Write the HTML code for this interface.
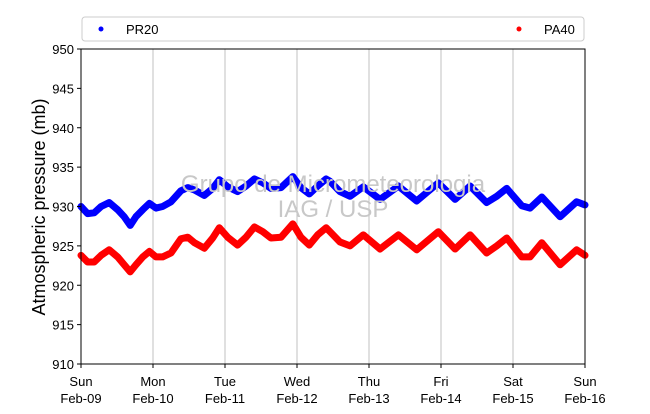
<!DOCTYPE html>
<html><head><meta charset="utf-8"><style>
body{margin:0;background:#fff;}
svg text{font-family:"Liberation Sans","DejaVu Sans",sans-serif;}
</style></head><body>
<svg width="650" height="409" xmlns="http://www.w3.org/2000/svg">
<rect width="650" height="409" fill="#fff"/>
<g id="grid"></g>
<g id="series"></g>
<text x="333" y="192" font-size="24" fill="#c8c8c8" text-anchor="middle">Grupo de Micrometeorologia</text>
<text x="333" y="217" font-size="24" fill="#c8c8c8" text-anchor="middle">IAG / USP</text>
<rect x="81" y="49" width="504" height="315" fill="none" stroke="#000" stroke-width="1"/>
<g id="axes"></g>
<text transform="translate(45,207) rotate(-90)" font-size="18" text-anchor="middle">Atmospheric pressure (mb)</text>
<g>
<rect x="82" y="17" width="502" height="24" rx="3" fill="#fff" stroke="#ccc"/>
<circle cx="101" cy="29" r="2.5" fill="#0000ff"/>
<text x="126" y="34" font-size="13">PR20</text>
<circle cx="519" cy="29" r="2.5" fill="#ff0000"/>
<text x="544" y="34" font-size="13">PA40</text>
</g>
</svg>
<script>
const hours=[0,2.2,4.4,6.7,9.4,12.2,14.4,16.4,18.3,20.6,22.8,25,27.2,30,33.3,35.6,37.8,41.1,43.9,46.1,48.9,52.2,55,57.8,60.6,63.3,66.7,70.6,73.3,76.1,78.9,81.7,83,86.3,89.7,94.1,99.7,105.8,111.9,119.1,124.7,129.7,135.2,138.6,141.9,146.9,149.7,153.6,159.7,165.2,168];
const pa40=[923.8,922.95,922.95,923.8,924.5,923.6,922.6,921.7,922.6,923.6,924.3,923.6,923.6,924.1,925.9,926.1,925.4,924.7,926.0,927.3,926.1,925.1,926.1,927.4,926.8,926.0,926.1,927.8,926.1,925.1,926.4,927.3,926.8,925.5,925.0,926.4,924.6,926.4,924.5,926.8,924.6,926.4,924.1,925.0,926.0,923.6,923.6,925.4,922.6,924.5,923.8];
const pr20=[930.0,929.1,929.2,930.0,930.5,929.6,928.7,927.6,928.7,929.6,930.4,929.8,930.0,930.6,932.0,932.4,932.1,931.4,932.3,933.4,932.5,931.9,932.6,933.5,933.0,932.3,932.4,933.8,932.4,931.6,932.6,933.5,933.2,931.9,931.3,932.5,930.9,932.6,930.7,933.0,930.9,932.6,930.5,931.3,932.3,930.1,929.8,931.2,928.7,930.6,930.2];
const yTicks=[910,915,920,925,930,935,940,945,950];
const dayNames=["Sun","Mon","Tue","Wed","Thu","Fri","Sat","Sun"];
const dayDates=["Feb-09","Feb-10","Feb-11","Feb-12","Feb-13","Feb-14","Feb-15","Feb-16"];
const NS="http://www.w3.org/2000/svg";
const X0=81,X1=585,Y0=364,Y1=49;
function xs(h){return X0+(h/168)*(X1-X0);}
function ys(v){return Y0-(v-910)/40*(Y0-Y1);}
const grid=document.getElementById('grid'),axes=document.getElementById('axes'),ser=document.getElementById('series');
function mk(tag,attrs,parent){const e=document.createElementNS(NS,tag);for(const k in attrs)e.setAttribute(k,attrs[k]);parent.appendChild(e);return e;}
dayNames.forEach((d,i)=>{
  const x=xs(i*24);
  if(i>0&&i<7){const g=mk('line',{x1:x,x2:x,y1:Y1,y2:Y0,stroke:'#c0c0c0','stroke-width':1},grid);
  
  }
  const t=mk('line',{x1:x,x2:x,y1:Y0,y2:Y0+4,stroke:'#000'},axes);
  
  
  const l1=mk('text',{x:x,y:386,'font-size':13,'text-anchor':'middle'},axes);l1.textContent=d;
  
  
  const l2=mk('text',{x:x,y:403,'font-size':13,'text-anchor':'middle'},axes);l2.textContent=dayDates[i];
  
  
});
yTicks.forEach(v=>{
  const y=ys(v);
  const t=mk('line',{x1:X0-4,x2:X0,y1:y,y2:y,stroke:'#000'},axes);
  
  
  const l=mk('text',{x:X0-7,y:y+5,'font-size':13,'text-anchor':'end'},axes);l.textContent=v;
  
  
});
function line(vals,color,name){
  const p=mk('polyline',{points:vals.map((v,i)=>xs(hours[i])+','+ys(v)).join(' '),fill:'none',stroke:color,'stroke-width':7,'stroke-linejoin':'round','stroke-linecap':'round'},ser);
  
  
}
line(pr20,'#0000ff','series-pr20');
line(pa40,'#ff0000','series-pa40');
</script>
</body></html>
